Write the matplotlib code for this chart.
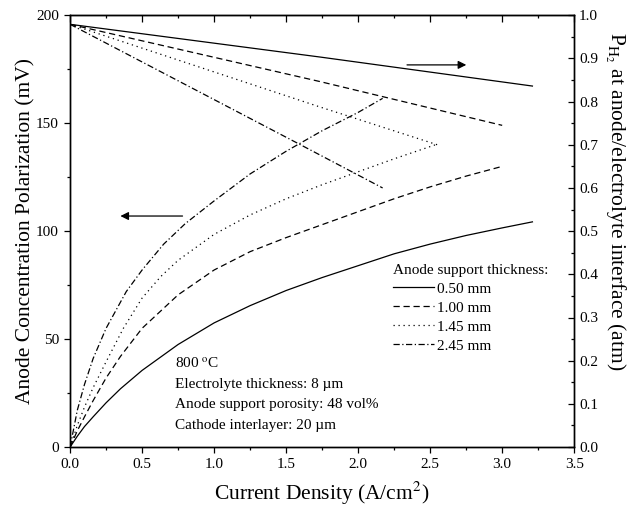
import matplotlib
matplotlib.use('Agg')
import matplotlib.pyplot as plt

plt.rcParams['font.family'] = ['Liberation Serif', 'DejaVu Serif']
plt.rcParams['mathtext.fontset'] = 'stix'

labels = ['0.50 mm', '1.00 mm', '1.45 mm', '2.45 mm']
styles = ['-', (0, (5, 3)), (0, (1, 3)), (0, (5, 2, 1, 2))]

# anode concentration polarization (mV), left axis
i_050 = [0.0, 0.05, 0.1, 0.16, 0.25, 0.35, 0.5, 0.75, 1.0, 1.25, 1.5, 1.75, 2.0, 2.25, 2.5, 2.75, 3.0, 3.21]
eta_050 = [0.0, 5, 9.5, 14, 20.5, 27, 35.5, 47.5, 57.5, 65.5, 72.5, 78.5, 84, 89.5, 94, 98, 101.5, 104.3]
i_100 = [0.0, 0.05, 0.1, 0.16, 0.25, 0.35, 0.5, 0.75, 1.0, 1.25, 1.5, 1.75, 2.0, 2.25, 2.5, 2.75, 3.0]
eta_100 = [0.0, 7.5, 14, 21.5, 32, 42, 55, 70.5, 82, 90.5, 97, 103, 109, 115, 120.5, 125.5, 130]
i_145 = [0.0, 0.05, 0.1, 0.16, 0.25, 0.37, 0.5, 0.63, 0.75, 1.0, 1.25, 1.5, 1.75, 2.0, 2.25, 2.55]
eta_145 = [0.0, 10, 18.5, 27.5, 39.5, 55, 69, 79, 86.5, 98.5, 107.5, 115, 121.5, 127.5, 133.5, 140.3]
i_245 = [0.0, 0.05, 0.1, 0.16, 0.25, 0.39, 0.5, 0.65, 0.8, 1.0, 1.25, 1.5, 1.75, 2.0, 2.17]
eta_245 = [0.0, 17, 29, 41, 55, 72, 82, 94, 103.5, 114, 126.5, 137, 146.5, 155, 161.5]

# H2 partial pressure at anode/electrolyte interface (atm), right axis
pi_050 = [0.0, 1.74, 3.21]
p_050 = [0.979, 0.903, 0.836]
pi_100 = [0.0, 1.74, 3.0]
p_100 = [0.979, 0.846, 0.745]
pi_145 = [0.0, 1.74, 2.55]
p_145 = [0.979, 0.787, 0.70]
pi_245 = [0.0, 1.6, 2.17]
p_245 = [0.979, 0.70, 0.60]

eta_x = [i_050, i_100, i_145, i_245]
eta_y = [eta_050, eta_100, eta_145, eta_245]
p_x = [pi_050, pi_100, pi_145, pi_245]
p_y = [p_050, p_100, p_145, p_245]

fig = plt.figure(figsize=(6.43, 5.08), dpi=100)
ax = fig.add_axes([0.109, 0.120, 0.784, 0.850])
ax2 = ax.twinx()

handles = []
for k in range(4):
    h, = ax.plot(eta_x[k], eta_y[k], color='black', lw=0.9, linestyle=styles[k], label=labels[k])
    handles.append(h)
    ax2.plot(p_x[k], p_y[k], color='black', lw=0.9, linestyle=styles[k])

ax.set_xlim(0, 3.5)
ax.set_ylim(0, 200)
ax2.set_ylim(0, 1.0)
ax.set_xticks([0.0, 0.5, 1.0, 1.5, 2.0, 2.5, 3.0, 3.5])
ax.set_xticks([0.25, 0.75, 1.25, 1.75, 2.25, 2.75, 3.25], minor=True)
ax.set_yticks([0, 50, 100, 150, 200])
ax.set_yticks([25, 75, 125, 175], minor=True)
ax2.set_yticks([0.0, 0.1, 0.2, 0.3, 0.4, 0.5, 0.6, 0.7, 0.8, 0.9, 1.0])
ax2.set_yticks([0.05, 0.15, 0.25, 0.35, 0.45, 0.55, 0.65, 0.75, 0.85, 0.95], minor=True)
ax.set_xticklabels(['0.0', '0.5', '1.0', '1.5', '2.0', '2.5', '3.0', '3.5'])
ax2.set_yticklabels(['%.1f' % v for v in ax2.get_yticks()])

ax.tick_params(which='major', direction='out', length=4.5, width=0.9, labelsize=11)
ax.tick_params(which='minor', direction='out', length=2.5, width=0.9)
ax2.tick_params(which='major', direction='in', length=4.5, width=0.9, labelsize=11)
ax2.tick_params(which='minor', direction='in', length=2.5, width=0.9)

top = ax.secondary_xaxis('top')
top.set_xticks([0.0, 0.5, 1.0, 1.5, 2.0, 2.5, 3.0, 3.5])
top.set_xticks([0.25, 0.75, 1.25, 1.75, 2.25, 2.75, 3.25], minor=True)
top.tick_params(which='major', direction='in', length=5, width=0.9, labeltop=False)
top.tick_params(which='minor', direction='in', length=2.5, width=0.9)

for a in (ax, ax2):
    for s in a.spines.values():
        s.set_linewidth(1.0)

ax.set_xlabel('Current Density (A/cm$^2$)', fontsize=15.5, va='center')
ax.xaxis.set_label_coords(0.5, -0.108)
ax.set_ylabel('Anode Concentration Polarization (mV)', fontsize=15.5, va='center')
ax.yaxis.set_label_coords(-0.087, 0.5)
ax2.set_ylabel('P$_{\\mathrm{H_2}}$ at anode/electrolyte interface (atm)', fontsize=15.5,
               rotation=270, va='center', ha='center')
ax2.yaxis.set_label_coords(1.082, 0.57)

# direction arrows
ax.annotate('', xy=(0.33, 107), xytext=(0.80, 107),
            arrowprops=dict(arrowstyle='-|>', color='black', lw=0.9, mutation_scale=12))
ax.annotate('', xy=(2.77, 177), xytext=(2.32, 177),
            arrowprops=dict(arrowstyle='-|>', color='black', lw=0.9, mutation_scale=12))

notes = ['800 $^{\\mathrm{o}}$C', 'Electrolyte thickness: 8 \u00b5m',
         'Anode support porosity: 48 vol%', 'Cathode interlayer: 20 \u00b5m']
for n, txt in enumerate(notes):
    ax.text(0.73, 38.5 - 9.5 * n, txt, fontsize=11, va='center', ha='left')

leg = ax.legend(handles=handles, title='Anode support thickness:', loc='upper left',
                bbox_to_anchor=(0.64, 0.425), frameon=False, alignment='left',
                handlelength=2.7, handletextpad=0.2, labelspacing=0.35,
                borderpad=0, borderaxespad=0, fontsize=11, title_fontsize=11)

fig.savefig('out.png', dpi=100)
